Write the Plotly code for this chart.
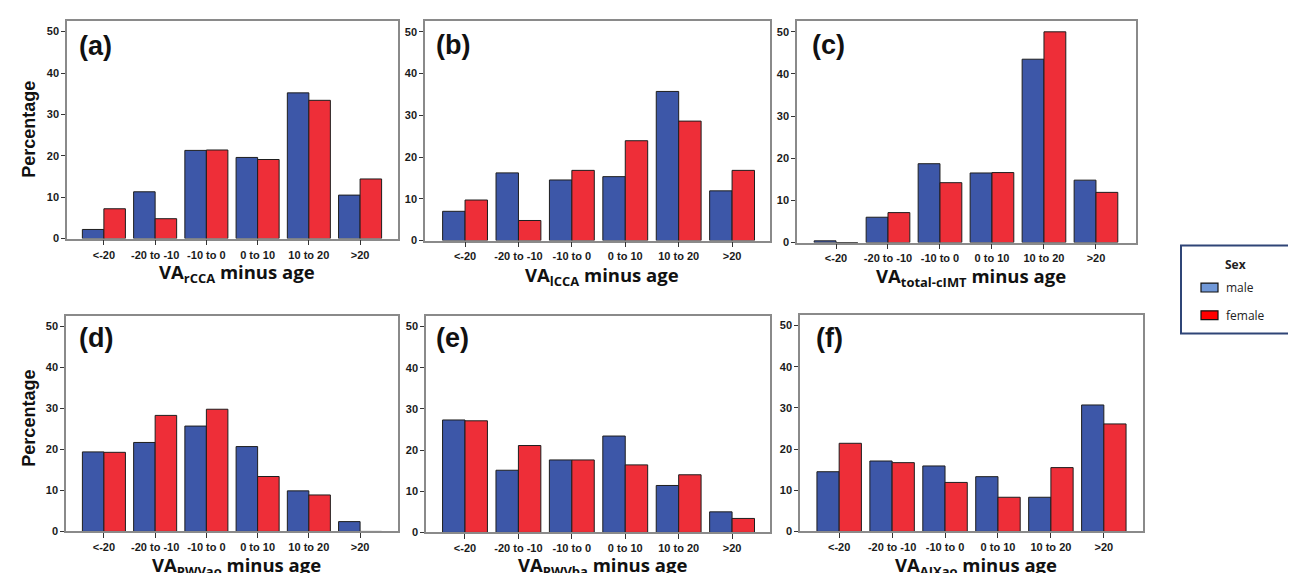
import plotly.graph_objects as go

W, H = 1296, 573

categories = ["<-20", "-20 to -10", "-10 to 0", "0 to 10", "10 to 20", ">20"]

male_a = [2.2, 11.3, 21.3, 19.6, 35.2, 10.5]
female_a = [7.2, 4.8, 21.4, 19.1, 33.4, 14.4]
male_b = [7.0, 16.2, 14.5, 15.3, 35.7, 11.9]
female_b = [9.7, 4.8, 16.8, 23.9, 28.6, 16.8]
male_c = [0.4, 6.0, 18.7, 16.5, 43.5, 14.8]
female_c = [0.0, 7.1, 14.2, 16.6, 50.0, 11.9]
male_d = [19.4, 21.7, 25.7, 20.7, 9.9, 2.4]
female_d = [19.3, 28.3, 29.8, 13.4, 8.9, 0.0]
male_e = [27.3, 15.1, 17.6, 23.4, 11.4, 5.0]
female_e = [27.1, 21.1, 17.6, 16.4, 14.0, 3.4]
male_f = [14.5, 17.1, 15.9, 13.3, 8.3, 30.7]
female_f = [21.4, 16.7, 11.9, 8.3, 15.5, 26.1]

panel_labels = ["(a)", "(b)", "(c)", "(d)", "(e)", "(f)"]
subscripts = ["rCCA", "lCCA", "total-cIMT", "PWVao", "PWVba", "AIXao"]
y_ticks = [0, 10, 20, 30, 40, 50]

MALE = "#3D57A8"
FEMALE = "#EE2E38"

def fx(x):
    return x / W

def fy(y):
    return 1 - y / H

# pixel layout of each panel box: left, right, top, bottom, x range, title y, label pos
panels = [
    dict(m=male_a, f=female_a, box=(59, 390, 13, 233), xr=[-0.72, 5.74], ty=268, lab=(69, 38)),
    dict(m=male_b, f=female_b, box=(417, 762, 13, 235), xr=[-0.75, 5.71], ty=271, lab=(426, 37)),
    dict(m=male_c, f=female_c, box=(789, 1128, 13, 237), xr=[-0.75, 5.77], ty=272, lab=(802, 37)),
    dict(m=male_d, f=female_d, box=(58, 390, 311, 529), xr=[-0.74, 5.74], ty=564, lab=(69, 333)),
    dict(m=male_e, f=female_e, box=(418, 762, 311, 530), xr=[-0.73, 5.71], ty=564, lab=(426, 333)),
    dict(m=male_f, f=female_f, box=(792, 1135, 310, 529), xr=[-0.74, 5.74], ty=564, lab=(806, 333)),
]

fig = go.Figure()
annotations = []
shapes = []
layout_axes = {}

for i, p in enumerate(panels):
    n = i + 1
    xa = "x" if n == 1 else f"x{n}"
    ya = "y" if n == 1 else f"y{n}"
    xkey = "xaxis" if n == 1 else f"xaxis{n}"
    ykey = "yaxis" if n == 1 else f"yaxis{n}"
    l, r, t, b = p["box"]
    fig.add_trace(go.Bar(x=categories, y=p["m"], name="male", xaxis=xa, yaxis=ya,
                         marker=dict(color=MALE, line=dict(color="#1e1e1e", width=1)),
                         offsetgroup="m", showlegend=False))
    fig.add_trace(go.Bar(x=categories, y=p["f"], name="female", xaxis=xa, yaxis=ya,
                         marker=dict(color=FEMALE, line=dict(color="#1e1e1e", width=1)),
                         offsetgroup="f", showlegend=False))
    layout_axes[xkey] = dict(
        domain=[fx(l), fx(r)], anchor=ya, type="category", range=p["xr"],
        showline=True, linecolor="#8a8a8a", linewidth=1.5, mirror=True,
        ticks="outside", ticklen=5, tickcolor="#333", showgrid=False,
        tickfont=dict(family="Liberation Sans, Arial", size=11, color="#1a1a1a", weight="bold"),
        fixedrange=True,
    )
    layout_axes[ykey] = dict(
        domain=[fy(b), fy(t)], anchor=xa, range=[0, 52.6],
        tickvals=y_ticks, showline=True, linecolor="#8a8a8a", linewidth=1.5, mirror=True,
        ticks="outside", ticklen=4, tickcolor="#333", showgrid=False, zeroline=False,
        tickfont=dict(family="Liberation Sans, Arial", size=11, color="#1a1a1a", weight="bold"),
        fixedrange=True,
    )
    # panel label
    annotations.append(dict(text=panel_labels[i], xref="paper", yref="paper",
                            x=fx(p["lab"][0]), y=fy(p["lab"][1]), xanchor="left", yanchor="middle",
                            showarrow=False,
                            font=dict(family="Liberation Sans, Arial", size=27, color="#111", weight="bold")))
    # x title
    annotations.append(dict(text=f"VA<sub>{subscripts[i]}</sub> minus age", xref="paper", yref="paper",
                            x=fx((l + r) / 2 + 4), y=fy(p["ty"]), xanchor="center", yanchor="middle",
                            showarrow=False,
                            font=dict(family="Open Sans", size=18.5, color="#111", weight=700)))

# y titles
for yc in (123, 415):
    annotations.append(dict(text="Percentage", xref="paper", yref="paper", x=fx(21), y=fy(yc),
                            xanchor="center", yanchor="middle", textangle=-90, showarrow=False,
                            font=dict(family="Liberation Sans, Arial", size=18, color="#111", weight="bold")))

# legend box
shapes.append(dict(type="rect", xref="paper", yref="paper", x0=fx(1173), x1=fx(1289), y0=fy(329), y1=fy(240),
                   line=dict(color="#2F4577", width=2), fillcolor="white"))
shapes.append(dict(type="rect", xref="paper", yref="paper", x0=fx(1193), x1=fx(1210), y0=fy(287), y1=fy(278),
                   line=dict(color="#111", width=1.2), fillcolor="#7098D8"))
shapes.append(dict(type="rect", xref="paper", yref="paper", x0=fx(1193), x1=fx(1210), y0=fy(315), y1=fy(306),
                   line=dict(color="#111", width=1.2), fillcolor="#FF0000"))
annotations.append(dict(text="<b>Sex</b>", xref="paper", yref="paper", x=fx(1227), y=fy(259),
                        xanchor="center", yanchor="middle", showarrow=False,
                        font=dict(family="Open Sans", size=12, color="#222")))
annotations.append(dict(text="male", xref="paper", yref="paper", x=fx(1216), y=fy(282),
                        xanchor="left", yanchor="middle", showarrow=False,
                        font=dict(family="Open Sans", size=12, color="#222")))
annotations.append(dict(text="female", xref="paper", yref="paper", x=fx(1216), y=fy(311),
                        xanchor="left", yanchor="middle", showarrow=False,
                        font=dict(family="Open Sans", size=12, color="#222")))

fig.update_layout(
    width=W, height=H, margin=dict(l=0, r=0, t=0, b=0),
    paper_bgcolor="white", plot_bgcolor="white",
    barmode="group", bargap=0.16, bargroupgap=0,
    annotations=annotations, shapes=shapes, showlegend=False,
    **layout_axes,
)

fig.write_html("out.html", config={"displayModeBar": False})
